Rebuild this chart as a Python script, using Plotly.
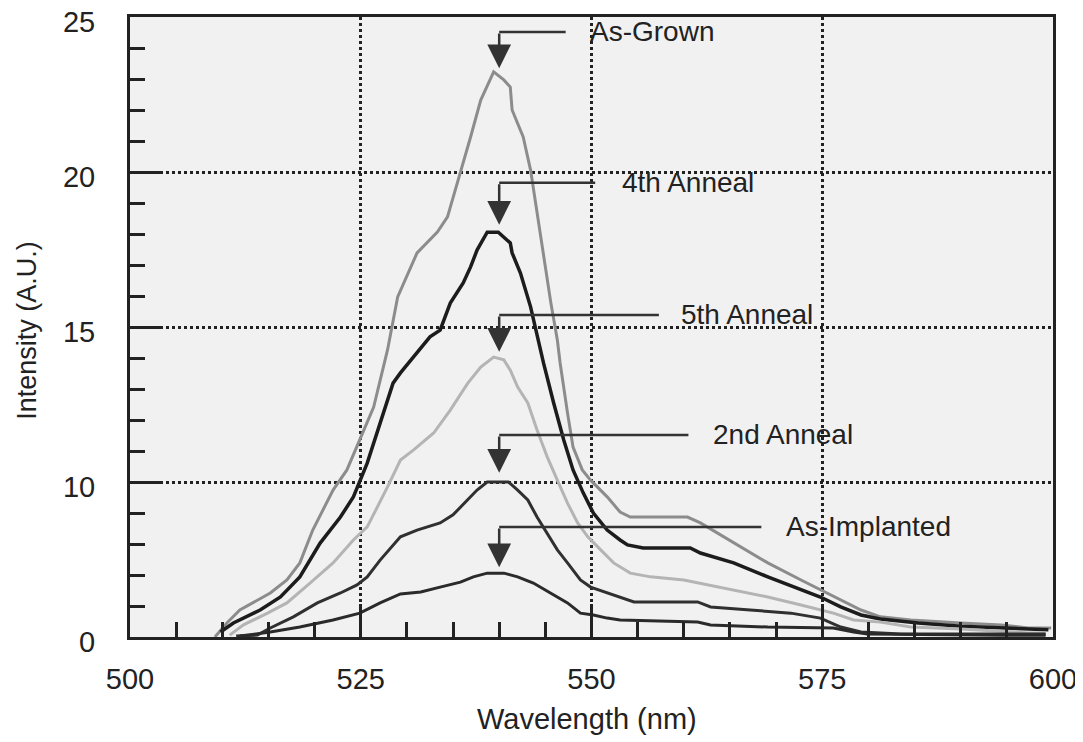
import plotly.graph_objects as go

# ---------------- data ----------------
as_grown_x = [509.2, 510.5, 511.9, 515.2, 517.0, 518.4, 519.8, 522.0, 523.5, 524.9, 526.4, 527.9,
              529.0, 531.1, 533.3, 534.4, 535.8, 536.9, 538.0, 539.4, 540.5, 541.2, 541.4, 542.6,
              543.4, 544.5, 545.6, 546.3, 546.6, 547.4, 548.0, 549.0, 549.9, 551.7, 553.1, 554.2,
              560.4, 561.8, 565.4, 569.1, 572.7, 574.8, 577.0, 579.2, 581.3, 584.6, 590.0, 594.4,
              597.3, 599.8]
as_grown_y = [0.0, 0.45, 0.87, 1.42, 1.84, 2.39, 3.45, 4.74, 5.39, 6.35, 7.42, 9.26,
              10.97, 12.39, 13.06, 13.55, 14.97, 16.13, 17.32, 18.23, 17.97, 17.74, 17.0, 16.13,
              15.06, 12.9, 10.77, 9.58, 8.84, 7.23, 6.13, 5.39, 5.06, 4.52, 4.03, 3.87,
              3.87, 3.68, 3.03, 2.39, 1.84, 1.52, 1.19, 0.87, 0.65, 0.55, 0.45, 0.39,
              0.29, 0.29]

anneal4_x = [509.8, 511.2, 514.1, 516.3, 518.4, 520.6, 522.8, 524.2, 525.7, 527.1, 528.5, 529.3,
             532.5, 533.6, 534.7, 536.1, 536.9, 537.6, 538.7, 539.9, 541.2, 541.4, 542.3, 543.4,
             544.1, 544.8, 545.9, 547.0, 548.0, 549.1, 550.2, 551.7, 553.1, 553.9, 555.6, 560.7,
             561.8, 565.4, 569.1, 572.7, 574.8, 577.0, 579.2, 581.3, 585.4, 590.0, 595.1, 599.5]
anneal4_y = [0.16, 0.45, 0.87, 1.29, 1.94, 3.03, 3.87, 4.52, 5.61, 6.9, 8.19, 8.52,
             9.68, 9.9, 10.77, 11.42, 11.94, 12.48, 13.06, 13.06, 12.71, 12.39, 11.74, 10.65,
             9.68, 8.84, 7.55, 6.35, 5.39, 4.65, 4.0, 3.45, 3.13, 2.97, 2.87, 2.87,
             2.71, 2.39, 1.94, 1.52, 1.29, 0.97, 0.71, 0.58, 0.45, 0.35, 0.29, 0.23]

anneal5_x = [510.8, 512.3, 514.9, 517.0, 519.5, 522.0, 524.2, 525.7, 527.9, 529.3, 530.7, 532.9,
             534.7, 536.6, 538.0, 539.4, 540.5, 541.2, 542.0, 543.1, 544.1, 545.2, 546.3, 547.4,
             548.5, 549.6, 551.0, 552.4, 554.2, 556.4, 560.0, 563.7, 569.1, 572.7, 576.2, 578.4,
             581.3, 584.6, 590.0, 597.3, 599.2]
anneal5_y = [0.06, 0.39, 0.77, 1.1, 1.74, 2.39, 3.13, 3.55, 4.84, 5.71, 6.03, 6.58,
             7.32, 8.19, 8.71, 9.03, 8.94, 8.61, 8.06, 7.55, 6.68, 5.81, 5.06, 4.32,
             3.68, 3.23, 2.81, 2.39, 2.06, 1.94, 1.84, 1.61, 1.29, 1.03, 0.77, 0.55,
             0.48, 0.32, 0.26, 0.13, 0.13]

anneal2_x = [511.5, 513.8, 515.2, 517.7, 520.3, 522.8, 524.6, 525.7, 527.1, 529.3, 531.1, 533.6,
             535.0, 536.6, 537.6, 538.7, 541.0, 542.0, 543.1, 544.1, 545.2, 546.3, 547.4, 548.8,
             549.9, 551.7, 554.6, 561.5, 562.9, 567.2, 571.6, 574.8, 577.0, 579.2, 583.5, 594.4,
             599.2]
anneal2_y = [0.03, 0.06, 0.29, 0.65, 1.1, 1.42, 1.68, 1.94, 2.48, 3.23, 3.45, 3.68,
             3.94, 4.42, 4.74, 5.0, 5.0, 4.74, 4.42, 3.87, 3.35, 2.81, 2.39, 1.84,
             1.61, 1.42, 1.13, 1.13, 0.97, 0.87, 0.77, 0.61, 0.32, 0.16, 0.1, 0.1,
             0.1]

as_implanted_x = [511.9, 515.2, 518.4, 522.0, 524.9, 527.1, 529.3, 531.5, 533.6, 535.8, 537.2, 538.7,
                  540.5, 542.0, 543.7, 545.6, 547.4, 548.8, 550.2, 551.7, 553.1, 561.5, 562.9, 569.1,
                  576.2, 578.4, 579.9, 594.4, 599.2]
as_implanted_y = [0.03, 0.16, 0.32, 0.55, 0.77, 1.1, 1.39, 1.45, 1.61, 1.77, 1.94, 2.06,
                  2.06, 1.94, 1.74, 1.42, 1.1, 0.77, 0.71, 0.61, 0.55, 0.48, 0.39, 0.32,
                  0.29, 0.16, 0.1, 0.06, 0.06]

series_names = ["As-Grown", "4th Anneal", "5th Anneal", "2nd Anneal", "As-Implanted"]

x_tick_vals = [500, 525, 550, 575, 600]
x_tick_text = ["500", "525", "550", "575", "600"]
y_tick_vals = [0, 5, 10, 15, 20]
y_tick_text = ["0", "10", "15", "20", "25"]

# annotation callouts: arrow x, line y, arrow tip y, line end x, label x
callout_arrow_x = [540, 540, 540, 540, 540]
callout_line_y = [19.52, 14.65, 10.39, 6.52, 3.55]
callout_tip_y = [18.35, 13.3, 9.2, 5.3, 2.25]
callout_line_end = [547.2, 550.4, 557.3, 560.5, 568.4]
callout_text_x = [549.6, 553.1, 559.5, 563.0, 570.9]

# ---------------- styles ----------------
FONT = "Liberation Sans, Arial, Helvetica, sans-serif"
INK = "#222222"
styles = [
    dict(color="#8c8c8c", width=3),
    dict(color="#1c1c1c", width=3.5),
    dict(color="#b4b4b4", width=3),
    dict(color="#303030", width=3),
    dict(color="#2a2a2a", width=3),
]

xs = [as_grown_x, anneal4_x, anneal5_x, anneal2_x, as_implanted_x]
ys = [as_grown_y, anneal4_y, anneal5_y, anneal2_y, as_implanted_y]

fig = go.Figure()
for name, x, y, st in zip(series_names, xs, ys, styles):
    fig.add_trace(go.Scatter(x=x, y=y, mode="lines", name=name, line=st, showlegend=False))

annotations = []
shapes = []
for name, ax_, ly, ty, le, tx in zip(series_names, callout_arrow_x, callout_line_y,
                                      callout_tip_y, callout_line_end, callout_text_x):
    shapes.append(dict(type="line", xref="x", yref="y", x0=ax_, x1=le, y0=ly, y1=ly,
                       line=dict(color="#333333", width=2.5)))
    annotations.append(dict(x=ax_, y=ty, ax=ax_, ay=ly, xref="x", yref="y", axref="x", ayref="y",
                            text="", showarrow=True, arrowhead=2, arrowsize=1.9, arrowwidth=2.5,
                            arrowcolor="#333333", standoff=0))
    annotations.append(dict(x=tx, y=ly, xref="x", yref="y", text=name, showarrow=False,
                            xanchor="left", yanchor="middle",
                            font=dict(family=FONT, size=28, color=INK)))

# axis titles
annotations.append(dict(x=0.495, y=-0.132, xref="paper", yref="paper", text="Wavelength (nm)",
                        showarrow=False, xanchor="center", yanchor="middle",
                        font=dict(family=FONT, size=29, color=INK)))
annotations.append(dict(x=-0.112, y=0.495, xref="paper", yref="paper", text="Intensity (A.U.)",
                        showarrow=False, xanchor="center", yanchor="middle", textangle=-90,
                        font=dict(family=FONT, size=27, color=INK)))

# the page body adds an 8px offset, so the figure is sized to fit the window after it
fig.update_layout(
    width=1075, height=734,
    margin=dict(l=122, r=30, t=9, b=105, autoexpand=False),
    paper_bgcolor="white",
    plot_bgcolor="#f1f1f1",
    font=dict(family=FONT, size=28, color=INK),
    shapes=shapes,
    annotations=annotations,
)

fig.update_xaxes(
    range=[500, 600], tickmode="array", tickvals=x_tick_vals, ticktext=x_tick_text,
    ticks="inside", ticklen=33, tickwidth=2.5, tickcolor=INK,
    ticklabelstandoff=14, automargin=False, ticklabeloverflow="allow",
    showline=True, linewidth=3, linecolor=INK, mirror=True,
    showgrid=True, gridcolor=INK, gridwidth=2.5, griddash="dot",
    zeroline=False,
    minor=dict(tickmode="linear", tick0=500, dtick=5, ticks="inside", ticklen=15,
               tickwidth=2.5, tickcolor=INK, showgrid=False),
    tickfont=dict(family=FONT, size=29, color=INK),
)
fig.update_yaxes(
    range=[0, 20], tickmode="array", tickvals=y_tick_vals, ticktext=y_tick_text,
    ticks="inside", ticklen=33, tickwidth=2.5, tickcolor=INK,
    ticklabelstandoff=26, ticklabelshift=5, automargin=False, ticklabeloverflow="allow",
    showline=True, linewidth=3, linecolor=INK, mirror=True,
    showgrid=True, gridcolor=INK, gridwidth=2.5, griddash="dot",
    zeroline=False,
    minor=dict(tickmode="linear", tick0=0, dtick=1, ticks="inside", ticklen=15,
               tickwidth=2.5, tickcolor=INK, showgrid=False),
    tickfont=dict(family=FONT, size=29, color=INK),
)

fig.write_html("out.html")
